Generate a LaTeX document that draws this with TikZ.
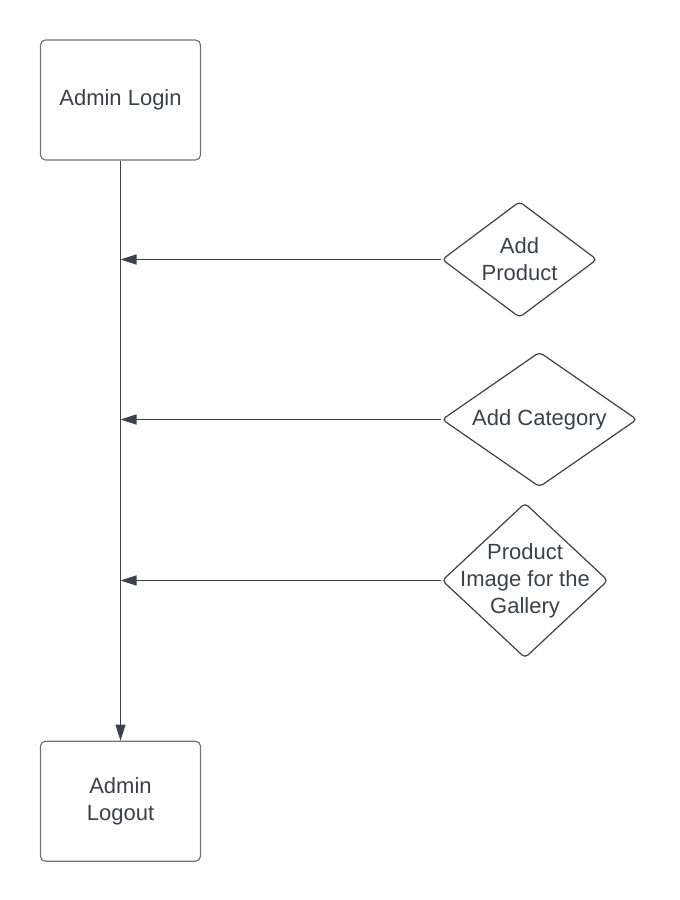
\documentclass[tikz,border=0pt]{standalone}
\usepackage{fontspec}
\setmainfont{Liberation Sans}
\usetikzlibrary{positioning, arrows.meta, shapes.geometric}
\definecolor{ink}{HTML}{3A414A}
\definecolor{frame}{HTML}{6E747B}

\begin{document}
\begin{tikzpicture}[x=0.5pt, y=-0.5pt, line width=0.6pt, font=\fontsize{11}{13.5}\selectfont, text=ink,
    box/.style = {draw=frame, rounded corners=2.5pt, minimum width=80pt, minimum height=60pt, align=center},
    choice/.style = {draw=ink, diamond, rounded corners=2pt, inner sep=-30pt, align=center},
    flow/.style = {draw=ink, -{Triangle[length=8pt, width=5pt]}}]
            \useasboundingbox (0,0) rectangle (680,900);
            \node[box] (login) at (120.5,100) {Admin Login};
            \node[box] (logout) [below=290pt of login] {Admin\\Logout};
            \node[choice, minimum width=77.5pt, minimum height=58pt] (product) at (519.5,259.5) {Add\\Product};
            \node[choice, minimum width=97.5pt, minimum height=67.5pt] (category) at (539.5,419.5) {Add Category};
            \node[choice, minimum width=83pt, minimum height=77.5pt] (gallery) at (525,580.5) {Product\\Image for the\\Gallery};
            \coordinate (p) at (login |- product.west);
            \coordinate (c) at (login |- category.west);
            \coordinate (g) at (login |- gallery.west);
            \draw[flow] (login) -- (logout);
            \draw[flow] (product) -- (p);
            \draw[flow] (category) -- (c);
            \draw[flow] (gallery) -- (g);
\end{tikzpicture}
\end{document}
